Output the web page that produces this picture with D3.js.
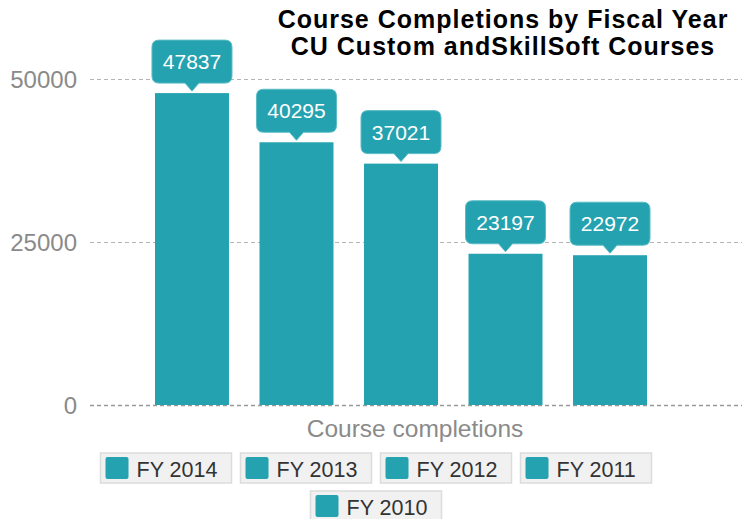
<!DOCTYPE html>
<html>
<head>
<meta charset="utf-8">
<script src="https://cdn.jsdelivr.net/npm/d3@7"></script>
<style>
  body { margin: 0; background: #fff; }
  svg { display: block; font-family: "Liberation Sans", Arial, sans-serif; }
</style>
</head>
<body>
<div id="chart"></div>
<script>
// data
const years = ["FY 2014", "FY 2013", "FY 2012", "FY 2011", "FY 2010"];
const completions = [47837, 40295, 37021, 23197, 22972];
const yTicks = [0, 25000, 50000];
const titleLines = ["Course Completions by Fiscal Year", "CU Custom andSkillSoft Courses"];
const xLabel = "Course completions";

const width = 742, height = 519;
const teal = "#25a2b0";

const svg = d3.select("#chart").append("svg")
    .attr("width", width)
    .attr("height", height);

// scales
const x = d3.scaleBand()
    .domain(years)
    .range([95, 707])
    .paddingInner(0.292)
    .paddingOuter(0.574);

const y = d3.scaleLinear()
    .domain([0, 50000])
    .range([405, 79]);

// grid lines + tick labels
const grid = svg.append("g");
grid.selectAll("line")
    .data(yTicks)
    .enter().append("line")
    .attr("x1", 90)
    .attr("x2", width)
    .attr("y1", d => y(d) + 0.5)
    .attr("y2", d => y(d) + 0.5)
    .attr("stroke", d => d === 0 ? "#999" : "#b5b5b5")
    .attr("stroke-width", d => d === 0 ? 1.5 : 1)
    .attr("stroke-dasharray", "4,3");

grid.selectAll("text")
    .data(yTicks)
    .enter().append("text")
    .attr("x", 77)
    .attr("y", d => y(d))
    .attr("dy", "0.36em")
    .attr("text-anchor", "end")
    .attr("fill", "#8a8a8a")
    .style("font-size", "24px")
    .text(d => d);

// bars
svg.append("g").selectAll("rect")
    .data(completions)
    .enter().append("rect")
    .attr("x", (d, i) => x(years[i]))
    .attr("y", d => y(d))
    .attr("width", x.bandwidth())
    .attr("height", d => y(0) - y(d))
    .attr("fill", teal);

// value callouts
const boxW = 80, boxH = 43, gap = 10;
const callouts = svg.append("g").selectAll("g")
    .data(completions)
    .enter().append("g")
    .attr("transform", (d, i) => `translate(${x(years[i]) + x.bandwidth() / 2}, ${y(d) - gap})`);

callouts.append("path")
    .attr("d", `M${-boxW / 2 + 7},${-boxH} H${boxW / 2 - 7} Q${boxW / 2},${-boxH} ${boxW / 2},${-boxH + 7}
      V-7 Q${boxW / 2},0 ${boxW / 2 - 7},0 H7 L0,8 L-7,0 H${-boxW / 2 + 7}
      Q${-boxW / 2},0 ${-boxW / 2},-7 V${-boxH + 7} Q${-boxW / 2},${-boxH} ${-boxW / 2 + 7},${-boxH} Z`)
    .attr("fill", teal)
    .attr("stroke", "#5cbcc6")
    .attr("stroke-width", 1);

callouts.append("text")
    .attr("y", -boxH / 2)
    .attr("dy", "0.36em")
    .attr("text-anchor", "middle")
    .attr("fill", "#fff")
    .style("font-size", "21px")
    .text(d => d);

// title
svg.append("text")
    .attr("text-anchor", "middle")
    .attr("font-weight", "bold")
    .style("font-size", "25px")
    .style("letter-spacing", "1px")
    .attr("fill", "#000")
    .selectAll("tspan")
    .data(titleLines)
    .enter().append("tspan")
    .attr("x", 503)
    .attr("y", (d, i) => 28 + i * 27)
    .text(d => d);

// x axis label
svg.append("text")
    .attr("x", 415)
    .attr("y", 437)
    .attr("text-anchor", "middle")
    .attr("fill", "#8a8a8a")
    .style("font-size", "24.5px")
    .text(xLabel);

// legend
const itemW = 131, itemH = 30, itemGap = 9;
const rows = [years.slice(0, 4), years.slice(4)];
const legendCx = 376;
rows.forEach((row, r) => {
    const totalW = row.length * itemW + (row.length - 1) * itemGap;
    const x0 = legendCx - totalW / 2;
    const items = svg.append("g").selectAll("g")
        .data(row)
        .enter().append("g")
        .attr("transform", (d, i) => `translate(${x0 + i * (itemW + itemGap)}, ${453 + r * 38})`);
    items.append("rect")
        .attr("width", itemW)
        .attr("height", itemH)
        .attr("fill", "#f1f1f1")
        .attr("stroke", "#dcdcdc")
        .attr("stroke-width", 1.5);
    items.append("rect")
        .attr("x", 5)
        .attr("y", 4)
        .attr("width", 23)
        .attr("height", 22)
        .attr("rx", 2)
        .attr("fill", teal);
    items.append("text")
        .attr("x", 36)
        .attr("y", 24)
        .attr("fill", "#333")
        .style("font-size", "21.5px")
        .text(d => d);
});
</script>
</body>
</html>
